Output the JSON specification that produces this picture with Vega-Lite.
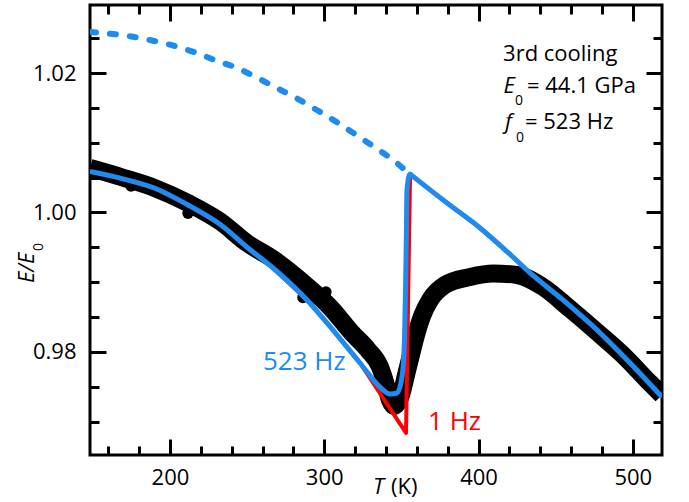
{
  "$schema": "https://vega.github.io/schema/vega-lite/v6.json",
  "width": 572,
  "height": 450,
  "autosize": {"type": "none"},
  "padding": {"left": 90, "top": 5, "right": 27, "bottom": 47},
  "background": "white",
  "config": {
    "view": {"stroke": "black", "strokeWidth": 3},
    "axis": {
      "domain": false,
      "grid": false,
      "title": null,
      "ticks": true,
      "tickColor": "black",
      "tickWidth": 3,
      "tickOpacity": 1,
      "labelFont": "Open Sans",
      "labelFontSize": 22,
      "labelColor": "black",
      "labelFlush": false,
      "labelOverlap": false,
      "zindex": 1
    }
  },
  "datasets": {
    "measured": [
      {"T": 148.2, "E": 1.00638}, {"T": 168.3, "E": 1.00509}, {"T": 190.3, "E": 1.00351},
      {"T": 211.7, "E": 1.00136}, {"T": 233.1, "E": 0.99864}, {"T": 249.9, "E": 0.99563},
      {"T": 266.8, "E": 0.99333}, {"T": 288.8, "E": 0.98946}, {"T": 303.7, "E": 0.98645},
      {"T": 318.0, "E": 0.98272}, {"T": 328.4, "E": 0.98029}, {"T": 336.1, "E": 0.97785},
      {"T": 340.0, "E": 0.97527}, {"T": 342.6, "E": 0.97312}, {"T": 345.2, "E": 0.97226},
      {"T": 349.8, "E": 0.97384}, {"T": 353.0, "E": 0.97670}, {"T": 356.2, "E": 0.97957},
      {"T": 359.5, "E": 0.98244}, {"T": 363.4, "E": 0.98516}, {"T": 368.6, "E": 0.98746},
      {"T": 378.3, "E": 0.98961}, {"T": 394.5, "E": 0.99075}, {"T": 409.4, "E": 0.99125},
      {"T": 424.9, "E": 0.99104}, {"T": 441.8, "E": 0.98932}, {"T": 459.3, "E": 0.98617},
      {"T": 476.8, "E": 0.98287}, {"T": 493.6, "E": 0.97957}, {"T": 511.1, "E": 0.97556},
      {"T": 518.9, "E": 0.97384}
    ],
    "scatter": [
      {"T": 174.8, "E": 1.00380}, {"T": 211.7, "E": 0.99990},
      {"T": 286.2, "E": 0.98780}, {"T": 301.1, "E": 0.98860}
    ],
    "model_1Hz": [
      {"T": 148.2, "E": 1.00588}, {"T": 168.3, "E": 1.00490}, {"T": 190.3, "E": 1.00347},
      {"T": 211.7, "E": 1.00108}, {"T": 233.1, "E": 0.99821}, {"T": 250.6, "E": 0.99491},
      {"T": 266.8, "E": 0.99204}, {"T": 288.8, "E": 0.98746}, {"T": 305.7, "E": 0.98315},
      {"T": 323.2, "E": 0.97842}, {"T": 353.0, "E": 0.96839}, {"T": 355.6, "E": 1.00495},
      {"T": 356.9, "E": 1.00529}, {"T": 379.6, "E": 1.00136}, {"T": 401.0, "E": 0.99778},
      {"T": 422.3, "E": 0.99362}, {"T": 433.4, "E": 0.99133}, {"T": 454.7, "E": 0.98746},
      {"T": 476.8, "E": 0.98315}, {"T": 498.2, "E": 0.97842}, {"T": 518.9, "E": 0.97355}
    ],
    "model_523Hz": [
      {"T": 148.2, "E": 1.00588}, {"T": 168.3, "E": 1.00490}, {"T": 190.3, "E": 1.00347},
      {"T": 211.7, "E": 1.00108}, {"T": 233.1, "E": 0.99821}, {"T": 250.6, "E": 0.99491},
      {"T": 266.8, "E": 0.99204}, {"T": 288.8, "E": 0.98746}, {"T": 305.7, "E": 0.98315},
      {"T": 323.2, "E": 0.97842}, {"T": 336.1, "E": 0.97498}, {"T": 342.6, "E": 0.97398},
      {"T": 347.2, "E": 0.97412}, {"T": 350.4, "E": 0.97642}, {"T": 352.0, "E": 0.98172},
      {"T": 352.7, "E": 0.98889}, {"T": 353.3, "E": 0.99792}, {"T": 353.6, "E": 1.00323},
      {"T": 355.6, "E": 1.00552}, {"T": 356.9, "E": 1.00529}, {"T": 379.6, "E": 1.00136},
      {"T": 401.0, "E": 0.99778}, {"T": 422.3, "E": 0.99362}, {"T": 433.4, "E": 0.99133},
      {"T": 454.7, "E": 0.98746}, {"T": 476.8, "E": 0.98315}, {"T": 498.2, "E": 0.97842},
      {"T": 518.9, "E": 0.97355}
    ],
    "unrelaxed": [
      {"T": 148.2, "E": 1.02588}, {"T": 163.1, "E": 1.02559}, {"T": 176.1, "E": 1.02520},
      {"T": 189.0, "E": 1.02463}, {"T": 203.1, "E": 1.02387}, {"T": 216.1, "E": 1.02297},
      {"T": 229.0, "E": 1.02186}, {"T": 243.0, "E": 1.02076}, {"T": 256.0, "E": 1.01938},
      {"T": 268.9, "E": 1.01789}, {"T": 283.0, "E": 1.01627}, {"T": 296.0, "E": 1.01459},
      {"T": 310.0, "E": 1.01269}, {"T": 323.0, "E": 1.01078}, {"T": 337.0, "E": 1.00872},
      {"T": 349.9, "E": 1.00657}, {"T": 353.6, "E": 1.00581}
    ]
  },
  "resolve": {"axis": {"x": "independent", "y": "independent"}},
  "layer": [
    {
      "data": {"name": "measured"},
      "mark": {"type": "line", "color": "black", "strokeWidth": 18, "strokeJoin": "round", "interpolate": "monotone", "clip": true},
      "encoding": {
        "x": {"field": "T", "type": "quantitative", "scale": {"domain": [148.2, 518.9], "nice": false, "zero": false},
              "axis": {"orient": "bottom", "values": [200, 300, 400, 500], "format": "d", "offset": -16, "tickSize": 16, "labelPadding": 12}},
        "y": {"field": "E", "type": "quantitative", "scale": {"domain": [0.96523, 1.02975], "nice": false, "zero": false},
              "axis": {"orient": "left", "values": [0.98, 1.0, 1.02], "format": ".2f", "offset": -16, "tickSize": 16, "labelPadding": 14}}
      }
    },
    {
      "data": {"name": "scatter"},
      "mark": {"type": "circle", "color": "black", "opacity": 1, "size": 130, "clip": true},
      "encoding": {
        "x": {"field": "T", "type": "quantitative", "scale": {"domain": [148.2, 518.9], "nice": false, "zero": false},
              "axis": {"orient": "bottom", "values": [160, 180, 220, 240, 260, 280, 320, 340, 360, 380, 420, 440, 460, 480], "offset": -9, "tickSize": 9, "labels": false}},
        "y": {"field": "E", "type": "quantitative", "scale": {"domain": [0.96523, 1.02975], "nice": false, "zero": false},
              "axis": {"orient": "left", "values": [0.97, 0.975, 0.985, 0.99, 0.995, 1.005, 1.01, 1.015, 1.025], "offset": -9, "tickSize": 9, "labels": false}}
      }
    },
    {
      "data": {"name": "model_1Hz"},
      "mark": {"type": "line", "color": "#ff0000", "strokeWidth": 4, "strokeJoin": "round", "clip": true},
      "encoding": {
        "x": {"field": "T", "type": "quantitative", "scale": {"domain": [148.2, 518.9], "nice": false, "zero": false},
              "axis": {"orient": "top", "values": [200, 300, 400, 500], "offset": -16, "tickSize": 16, "labels": false}},
        "y": {"field": "E", "type": "quantitative", "scale": {"domain": [0.96523, 1.02975], "nice": false, "zero": false},
              "axis": {"orient": "right", "values": [0.98, 1.0, 1.02], "offset": -16, "tickSize": 16, "labels": false}}
      }
    },
    {
      "data": {"name": "model_523Hz"},
      "mark": {"type": "line", "color": "#1e8bf0", "strokeWidth": 5, "strokeJoin": "round", "interpolate": "monotone", "clip": true},
      "encoding": {
        "x": {"field": "T", "type": "quantitative", "scale": {"domain": [148.2, 518.9], "nice": false, "zero": false},
              "axis": {"orient": "top", "values": [160, 180, 220, 240, 260, 280, 320, 340, 360, 380, 420, 440, 460, 480], "offset": -9, "tickSize": 9, "labels": false}},
        "y": {"field": "E", "type": "quantitative", "scale": {"domain": [0.96523, 1.02975], "nice": false, "zero": false},
              "axis": {"orient": "right", "values": [0.97, 0.975, 0.985, 0.99, 0.995, 1.005, 1.01, 1.015, 1.025], "offset": -9, "tickSize": 9, "labels": false}}
      }
    },
    {
      "data": {"name": "unrelaxed"},
      "mark": {"type": "line", "color": "#1e8bf0", "strokeWidth": 6, "strokeCap": "round", "strokeDash": [6, 14], "interpolate": "monotone", "clip": true},
      "encoding": {
        "x": {"field": "T", "type": "quantitative", "scale": {"domain": [148.2, 518.9], "nice": false, "zero": false}, "axis": null},
        "y": {"field": "E", "type": "quantitative", "scale": {"domain": [0.96523, 1.02975], "nice": false, "zero": false}, "axis": null}
      }
    },
    {
      "data": {"values": [{}]},
      "mark": {"type": "text", "text": "3rd cooling", "font": "Open Sans", "fontSize": 22, "align": "left", "baseline": "alphabetic", "color": "black"},
      "encoding": {
        "x": {"datum": 415.9, "type": "quantitative", "scale": {"domain": [148.2, 518.9], "nice": false, "zero": false}, "axis": null},
        "y": {"datum": 1.02179, "type": "quantitative", "scale": {"domain": [0.96523, 1.02975], "nice": false, "zero": false}, "axis": null}
      }
    },
    {
      "data": {"values": [{}]},
      "mark": {"type": "text", "text": "E", "font": "Open Sans", "fontSize": 22, "fontStyle": "italic", "align": "left", "baseline": "alphabetic", "color": "black"},
      "encoding": {
        "x": {"datum": 416.1, "type": "quantitative", "scale": {"domain": [148.2, 518.9], "nice": false, "zero": false}, "axis": null},
        "y": {"datum": 1.01709, "type": "quantitative", "scale": {"domain": [0.96523, 1.02975], "nice": false, "zero": false}, "axis": null}
      }
    },
    {
      "data": {"values": [{}]},
      "mark": {"type": "text", "text": "0", "font": "Open Sans", "fontSize": 14, "align": "left", "baseline": "alphabetic", "color": "black"},
      "encoding": {
        "x": {"datum": 423.6, "type": "quantitative", "scale": {"domain": [148.2, 518.9], "nice": false, "zero": false}, "axis": null},
        "y": {"datum": 1.01541, "type": "quantitative", "scale": {"domain": [0.96523, 1.02975], "nice": false, "zero": false}, "axis": null}
      }
    },
    {
      "data": {"values": [{}]},
      "mark": {"type": "text", "text": "= 44.1 GPa", "font": "Open Sans", "fontSize": 22, "align": "left", "baseline": "alphabetic", "color": "black"},
      "encoding": {
        "x": {"datum": 431.4, "type": "quantitative", "scale": {"domain": [148.2, 518.9], "nice": false, "zero": false}, "axis": null},
        "y": {"datum": 1.01709, "type": "quantitative", "scale": {"domain": [0.96523, 1.02975], "nice": false, "zero": false}, "axis": null}
      }
    },
    {
      "data": {"values": [{}]},
      "mark": {"type": "text", "text": "f", "font": "Open Sans", "fontSize": 22, "fontStyle": "italic", "align": "left", "baseline": "alphabetic", "color": "black"},
      "encoding": {
        "x": {"datum": 417.2, "type": "quantitative", "scale": {"domain": [148.2, 518.9], "nice": false, "zero": false}, "axis": null},
        "y": {"datum": 1.01193, "type": "quantitative", "scale": {"domain": [0.96523, 1.02975], "nice": false, "zero": false}, "axis": null}
      }
    },
    {
      "data": {"values": [{}]},
      "mark": {"type": "text", "text": "0", "font": "Open Sans", "fontSize": 14, "align": "left", "baseline": "alphabetic", "color": "black"},
      "encoding": {
        "x": {"datum": 424.3, "type": "quantitative", "scale": {"domain": [148.2, 518.9], "nice": false, "zero": false}, "axis": null},
        "y": {"datum": 1.01015, "type": "quantitative", "scale": {"domain": [0.96523, 1.02975], "nice": false, "zero": false}, "axis": null}
      }
    },
    {
      "data": {"values": [{}]},
      "mark": {"type": "text", "text": "= 523 Hz", "font": "Open Sans", "fontSize": 22, "align": "left", "baseline": "alphabetic", "color": "black"},
      "encoding": {
        "x": {"datum": 430.1, "type": "quantitative", "scale": {"domain": [148.2, 518.9], "nice": false, "zero": false}, "axis": null},
        "y": {"datum": 1.01193, "type": "quantitative", "scale": {"domain": [0.96523, 1.02975], "nice": false, "zero": false}, "axis": null}
      }
    },
    {
      "data": {"values": [{}]},
      "mark": {"type": "text", "text": "523 Hz", "font": "Open Sans", "fontSize": 26, "align": "left", "baseline": "alphabetic", "color": "#1e8bf0"},
      "encoding": {
        "x": {"datum": 260.3, "type": "quantitative", "scale": {"domain": [148.2, 518.9], "nice": false, "zero": false}, "axis": null},
        "y": {"datum": 0.97742, "type": "quantitative", "scale": {"domain": [0.96523, 1.02975], "nice": false, "zero": false}, "axis": null}
      }
    },
    {
      "data": {"values": [{}]},
      "mark": {"type": "text", "text": "1 Hz", "font": "Open Sans", "fontSize": 26, "align": "left", "baseline": "alphabetic", "color": "#ff0000"},
      "encoding": {
        "x": {"datum": 367.3, "type": "quantitative", "scale": {"domain": [148.2, 518.9], "nice": false, "zero": false}, "axis": null},
        "y": {"datum": 0.96882, "type": "quantitative", "scale": {"domain": [0.96523, 1.02975], "nice": false, "zero": false}, "axis": null}
      }
    },
    {
      "data": {"values": [{}]},
      "mark": {"type": "text", "text": "T", "font": "Open Sans", "fontSize": 22, "fontStyle": "italic", "align": "left", "baseline": "alphabetic", "color": "black"},
      "encoding": {
        "x": {"datum": 331.6, "type": "quantitative", "scale": {"domain": [148.2, 518.9], "nice": false, "zero": false}, "axis": null},
        "y": {"datum": 0.95964, "type": "quantitative", "scale": {"domain": [0.96523, 1.02975], "nice": false, "zero": false}, "axis": null}
      }
    },
    {
      "data": {"values": [{}]},
      "mark": {"type": "text", "text": "(K)", "font": "Open Sans", "fontSize": 22, "align": "left", "baseline": "alphabetic", "color": "black"},
      "encoding": {
        "x": {"datum": 343.3, "type": "quantitative", "scale": {"domain": [148.2, 518.9], "nice": false, "zero": false}, "axis": null},
        "y": {"datum": 0.95964, "type": "quantitative", "scale": {"domain": [0.96523, 1.02975], "nice": false, "zero": false}, "axis": null}
      }
    },
    {
      "data": {"values": [{}]},
      "mark": {"type": "text", "text": "E/E", "font": "Open Sans", "fontSize": 22, "fontStyle": "italic", "angle": 270, "align": "left", "baseline": "alphabetic", "color": "black"},
      "encoding": {
        "x": {"datum": 111.9, "type": "quantitative", "scale": {"domain": [148.2, 518.9], "nice": false, "zero": false}, "axis": null},
        "y": {"datum": 0.98989, "type": "quantitative", "scale": {"domain": [0.96523, 1.02975], "nice": false, "zero": false}, "axis": null}
      }
    },
    {
      "data": {"values": [{}]},
      "mark": {"type": "text", "text": "0", "font": "Open Sans", "fontSize": 14, "angle": 270, "align": "left", "baseline": "alphabetic", "color": "black"},
      "encoding": {
        "x": {"datum": 117.7, "type": "quantitative", "scale": {"domain": [148.2, 518.9], "nice": false, "zero": false}, "axis": null},
        "y": {"datum": 0.99448, "type": "quantitative", "scale": {"domain": [0.96523, 1.02975], "nice": false, "zero": false}, "axis": null}
      }
    }
  ]
}
